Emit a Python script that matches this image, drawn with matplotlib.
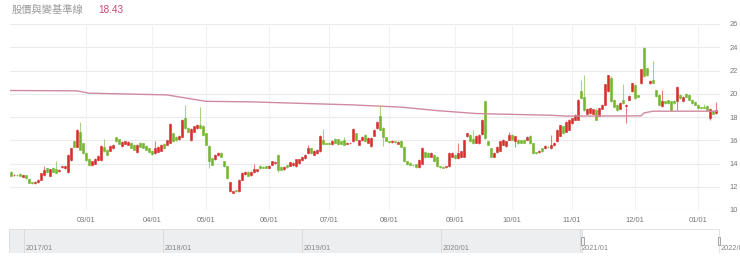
import numpy as np
import matplotlib
matplotlib.use('Agg')
import matplotlib.pyplot as plt
import matplotlib.patches as patches

# daily candles (trading-day index 0..235)
opens = [
    13.25, 13.0, 13.05, 13.1, 12.85, 13.0, 12.7, 12.4, 12.3, 12.4,
    12.6, 13.0, 13.6, 12.95, 13.65, 13.5, 13.35, 13.7, 13.6, 13.25,
    14.3, 15.9, 15.45, 16.75, 15.75, 14.9, 14.4, 13.85, 14.0, 14.3,
    14.3, 15.45, 15.2, 15.1, 15.3, 16.25, 16.1, 15.5, 15.7, 15.6,
    15.8, 15.6, 14.95, 15.8, 15.75, 15.5, 15.3, 15.1, 14.9, 15.0,
    15.1, 15.7, 15.6, 15.8, 16.6, 16.3, 16.1, 16.3, 17.9, 17.05,
    16.0, 16.75, 17.05, 17.35, 17.25, 16.6, 15.5, 14.45, 14.35, 14.7,
    14.9, 14.2, 13.75, 11.6, 11.5, 11.7, 11.6, 12.6, 13.1, 13.3,
    13.0, 13.25, 13.35, 13.8, 13.7, 13.75, 13.65, 13.9, 14.05, 14.75,
    13.7, 13.5, 13.85, 13.8, 13.85, 13.75, 14.05, 14.3, 14.45, 14.9,
    15.3, 14.75, 14.9, 15.05, 16.05, 15.75, 15.8, 15.65, 16.15, 16.1,
    15.9, 16.0, 15.7, 15.75, 15.9, 16.6, 15.6, 16.0, 16.45, 15.8,
    15.5, 16.4, 17.05, 18.05, 17.05, 16.25, 15.9, 15.85, 15.9, 15.7,
    15.95, 15.45, 14.2, 14.05, 13.9, 13.95, 13.7, 14.0, 15.0, 14.9,
    14.6, 14.75, 14.6, 13.75, 13.72, 13.7, 13.75, 14.6, 14.75, 14.45,
    14.6, 14.6, 16.35, 16.45, 16.15, 15.8, 15.75, 16.5, 19.35, 15.9,
    15.3, 14.6, 14.95, 15.1, 15.6, 15.5, 16.05, 16.45, 15.95, 16.05,
    16.0, 16.05, 16.05, 16.4, 15.75, 14.95, 14.95, 15.3, 15.3, 15.45,
    15.3, 15.55, 15.9, 16.4, 17.2, 16.75, 16.9, 17.45, 17.75, 17.75,
    20.2, 19.75, 18.3, 18.35, 18.3, 18.6, 18.1, 18.7, 19.05, 20.2,
    21.35, 19.5, 19.05, 18.7, 19.45, 18.95, 19.5, 20.2, 20.75, 19.85,
    20.9, 23.9, 22.2, 20.9, 21.15, 20.3, 19.9, 18.95, 19.35, 19.45,
    19.35, 19.4, 19.35, 19.9, 19.35, 20.0, 19.9, 19.5, 19.3, 19.05,
    18.85, 18.85, 18.95, 17.9, 18.5, 18.35,
]
closes = [
    12.95, 13.05, 13.0, 12.95, 13.0, 12.75, 12.35, 12.3, 12.45, 12.6,
    13.15, 13.4, 13.3, 13.5, 13.3, 13.2, 13.45, 13.75, 13.75, 14.75,
    15.3, 15.45, 16.9, 15.2, 14.9, 14.3, 13.85, 14.2, 14.4, 14.65,
    15.5, 15.05, 14.75, 15.5, 15.6, 15.9, 15.7, 15.85, 15.9, 15.85,
    15.35, 15.2, 15.6, 15.45, 15.35, 15.2, 14.95, 14.8, 15.3, 15.45,
    15.6, 15.3, 16.0, 17.4, 15.9, 16.0, 16.4, 17.75, 17.05, 16.75,
    17.0, 17.2, 17.35, 17.05, 16.45, 15.6, 14.2, 13.9, 14.75, 14.9,
    14.6, 13.75, 12.75, 12.4, 11.6, 11.6, 12.6, 13.2, 13.3, 12.95,
    13.3, 13.5, 13.5, 13.6, 13.65, 13.65, 13.8, 14.2, 14.15, 13.45,
    13.45, 13.7, 13.7, 14.1, 14.05, 14.35, 14.35, 14.6, 14.75, 15.3,
    14.9, 15.1, 15.2, 16.4, 15.7, 15.7, 15.7, 15.95, 15.8, 15.65,
    15.7, 15.6, 15.8, 15.8, 17.0, 16.0, 16.0, 16.3, 15.9, 16.2,
    16.2, 16.9, 17.6, 16.9, 16.25, 15.95, 15.85, 15.95, 15.85, 15.85,
    15.45, 14.2, 13.95, 13.9, 13.85, 13.7, 14.3, 15.3, 14.55, 14.6,
    14.9, 14.2, 13.75, 13.7, 13.65, 13.75, 14.9, 14.9, 14.45, 14.9,
    15.05, 16.0, 16.6, 15.9, 15.75, 16.4, 16.45, 17.75, 16.2, 15.6,
    14.6, 14.9, 15.45, 15.9, 16.05, 15.9, 16.45, 16.05, 16.35, 15.75,
    15.8, 15.8, 16.3, 15.75, 14.9, 14.9, 15.1, 15.05, 15.5, 15.4,
    15.6, 15.8, 16.9, 17.3, 16.6, 17.6, 17.75, 17.9, 18.2, 19.5,
    19.6, 18.6, 18.7, 18.75, 18.65, 17.75, 18.75, 19.05, 20.8, 21.6,
    19.35, 18.9, 18.6, 19.2, 19.2, 19.05, 19.8, 20.9, 19.6, 19.75,
    22.1, 21.5, 21.6, 21.1, 20.95, 19.8, 19.05, 19.35, 19.2, 19.2,
    18.6, 19.2, 20.6, 19.6, 19.75, 19.75, 19.5, 19.2, 19.05, 18.75,
    18.8, 18.8, 18.6, 18.7, 18.3, 18.6,
]
highs = [
    13.35, 13.1, 13.1, 13.15, 13.05, 13.05, 12.75, 12.45, 12.5, 12.65,
    13.2, 13.8, 13.65, 13.55, 13.7, 14.2, 13.5, 13.8, 13.8, 14.8,
    15.35, 15.95, 16.95, 17.6, 15.8, 14.95, 14.45, 14.25, 14.45, 14.7,
    15.55, 16.1, 15.25, 15.55, 15.65, 16.3, 16.15, 15.9, 15.95, 15.9,
    15.85, 15.65, 15.65, 15.85, 15.8, 15.55, 15.35, 15.15, 15.9, 15.5,
    15.65, 15.75, 16.05, 17.45, 16.65, 16.35, 16.45, 17.8, 19.05, 17.1,
    17.05, 17.25, 17.4, 18.85, 17.3, 16.65, 15.55, 14.5, 14.8, 14.95,
    14.95, 14.25, 13.8, 12.45, 11.65, 11.75, 12.65, 13.25, 13.35, 13.35,
    13.35, 13.95, 13.55, 13.85, 13.75, 13.8, 13.85, 14.25, 14.2, 14.8,
    13.75, 13.75, 13.9, 14.15, 14.1, 14.4, 14.4, 14.65, 14.8, 15.6,
    15.35, 15.15, 15.25, 16.45, 16.95, 15.8, 15.85, 16.0, 16.2, 16.15,
    15.95, 16.3, 15.85, 15.85, 17.05, 16.65, 16.05, 16.35, 16.5, 16.25,
    16.25, 16.95, 17.65, 18.95, 17.1, 16.3, 15.95, 16.0, 15.95, 15.9,
    16.0, 15.5, 14.25, 14.1, 13.95, 14.0, 14.35, 15.45, 15.05, 14.95,
    14.95, 14.8, 14.65, 13.8, 13.78, 13.8, 14.95, 14.95, 14.8, 15.75,
    15.1, 16.05, 16.65, 16.5, 16.85, 16.45, 16.5, 17.8, 19.4, 15.95,
    15.35, 14.95, 15.5, 15.95, 16.1, 15.95, 16.75, 16.5, 16.4, 16.1,
    16.05, 16.1, 16.35, 16.45, 15.8, 15.0, 15.15, 15.35, 15.55, 15.5,
    16.45, 15.85, 16.95, 17.35, 17.25, 17.65, 17.8, 17.95, 18.25, 19.55,
    21.2, 21.6, 18.75, 18.8, 18.7, 18.75, 18.8, 19.1, 20.85, 21.65,
    21.5, 19.55, 19.1, 19.25, 20.8, 19.1, 19.85, 20.95, 20.8, 19.9,
    22.15, 24.0, 22.25, 21.15, 22.8, 20.35, 19.95, 20.35, 19.4, 19.5,
    19.4, 19.45, 20.65, 19.95, 19.8, 20.05, 19.95, 19.55, 19.35, 19.1,
    18.9, 19.1, 19.0, 18.75, 18.55, 19.3,
]
lows = [
    12.9, 12.95, 12.95, 12.9, 12.8, 12.7, 12.3, 12.25, 12.25, 12.35,
    12.55, 12.95, 13.2, 12.9, 13.25, 13.15, 13.3, 13.65, 13.55, 13.2,
    14.25, 15.4, 15.4, 15.15, 14.85, 14.25, 13.8, 13.8, 13.95, 14.25,
    14.25, 15.0, 14.7, 15.05, 15.25, 15.85, 15.65, 15.45, 15.65, 15.55,
    15.3, 15.15, 14.9, 15.4, 15.3, 15.15, 14.9, 14.75, 14.85, 14.95,
    15.05, 15.25, 15.55, 15.75, 15.85, 15.95, 16.05, 16.25, 17.0, 16.7,
    15.95, 16.7, 17.0, 17.0, 16.4, 15.55, 13.6, 13.85, 14.3, 14.65,
    14.55, 13.7, 12.7, 11.55, 11.45, 11.55, 11.55, 12.55, 13.05, 12.9,
    12.95, 13.2, 13.3, 13.55, 13.6, 13.6, 13.6, 13.85, 14.0, 13.3,
    13.4, 13.45, 13.65, 13.75, 13.8, 13.7, 14.0, 14.25, 14.4, 14.85,
    14.85, 14.7, 14.85, 15.0, 15.65, 15.65, 15.65, 15.6, 15.75, 15.6,
    15.65, 15.55, 15.65, 15.7, 15.85, 15.95, 15.55, 15.95, 15.85, 15.75,
    15.45, 16.35, 17.0, 16.85, 15.5, 15.9, 15.8, 15.8, 15.8, 15.65,
    15.4, 14.15, 13.9, 13.85, 13.8, 13.65, 13.65, 13.95, 14.5, 14.55,
    14.55, 14.15, 13.7, 13.65, 13.6, 13.65, 13.7, 14.55, 14.4, 14.4,
    14.55, 14.55, 16.3, 15.85, 15.7, 15.75, 15.7, 16.45, 16.15, 15.55,
    14.55, 14.55, 14.9, 15.05, 15.55, 15.45, 16.0, 16.0, 15.45, 15.7,
    15.75, 15.75, 16.0, 15.7, 14.85, 14.85, 14.9, 15.0, 15.25, 15.35,
    15.25, 15.5, 15.85, 16.35, 16.55, 16.7, 16.85, 17.4, 17.7, 17.7,
    19.55, 18.55, 18.25, 18.3, 18.25, 17.7, 18.05, 18.65, 19.0, 20.15,
    19.3, 18.85, 18.55, 18.65, 19.15, 17.45, 19.45, 20.15, 19.55, 19.7,
    20.85, 21.45, 21.55, 20.85, 20.9, 19.75, 19.0, 18.9, 19.15, 19.15,
    18.55, 19.15, 18.6, 19.55, 19.3, 19.7, 19.45, 19.15, 19.0, 18.7,
    18.75, 18.75, 18.55, 17.75, 18.25, 18.3,
]

# baseline (pink line) vertices: trading-day index -> value
base_idx = [-0.3, 22, 26, 52, 59, 65, 80, 113, 130, 142, 155, 163, 180, 185, 210, 211, 214, 235.5]
base_val = [20.28, 20.25, 20.05, 19.9, 19.6, 19.35, 19.3, 19.05, 18.85, 18.55, 18.3, 18.25, 18.15, 18.08, 18.1, 18.35, 18.5, 18.5]

month_labels = ['03/01', '04/01', '05/01', '06/01', '07/01', '08/01',
                '09/01', '10/01', '11/01', '12/01', '01/01']
month_idx = [25, 47, 65, 86, 106, 126, 148, 167, 187, 208, 229]
y_ticks = [10, 12, 14, 16, 18, 20, 22, 24, 26]

nav_years = [2017, 2018, 2019, 2020, 2021, 2022]
nav_labels = ['2017/01', '2018/01', '2019/01', '2020/01', '2021/01', '2022/01']
nav_window = (2021.015, 2022.0)

title_text = '股價與變基準線'
title_value = '18.43'

UP = '#d42f2c'
DOWN = '#74b630'
W, H = 740, 269

fig = plt.figure(figsize=(W / 100, H / 100), dpi=100)

# main price panel
ax = fig.add_axes([10 / W, (H - 210) / H, 710 / W, 186 / H])
idx = np.arange(len(closes))
o = np.array(opens)
c = np.array(closes)
up = c >= o
col = np.where(up, UP, DOWN)

for yv in y_ticks:
    ax.axhline(yv, color='#d6d6d6' if yv == 10 else '#ebebeb', lw=0.8, zorder=0)
for m in month_idx:
    ax.axvline(m, color='#f1f1f1', lw=0.8, zorder=0)

ax.vlines(idx, lows, highs, colors=col, lw=0.8, alpha=0.6, zorder=2)
ax.bar(idx, c - o, bottom=o, width=0.86, color=col, edgecolor=col, lw=0.4, zorder=3)
ax.plot(base_idx, base_val, color='#d08a9f', lw=1.0, zorder=4)

ax.set_xlim(-0.33, 236.33)
ax.set_ylim(10, 26)
for s in ax.spines.values():
    s.set_visible(False)
ax.yaxis.tick_right()
ax.set_yticks(y_ticks)
ax.set_yticklabels([str(v) for v in y_ticks])
ax.set_xticks(month_idx)
ax.set_xticklabels(month_labels)
ax.tick_params(length=0, labelsize=5.4, colors='#777777')
ax.tick_params(axis='y', pad=7)
ax.tick_params(axis='x', pad=5)
for lab in ax.get_xticklabels() + ax.get_yticklabels():
    lab.set_family('Liberation Sans')

# range navigator strip
nav = fig.add_axes([9 / W, (H - 253) / H, 712 / W, 24 / H])
nav.set_xlim(2017 - 15 / 139, 2022 + 2 / 139)
nav.set_ylim(0, 1)
nav.axis('off')
x0 = nav.get_xlim()[0]
nav.add_patch(patches.Rectangle((x0, 0), nav_window[0] - x0, 1, facecolor='#eceef0',
                                edgecolor='#dcdcdc', lw=0.6, zorder=1))
nav.add_patch(patches.Rectangle((nav_window[0], 0), nav_window[1] - nav_window[0], 1,
                                facecolor='white', edgecolor='#dedede', lw=0.6, zorder=1))
for yr, lab in zip(nav_years, nav_labels):
    if yr < nav_window[0]:
        nav.axvline(yr, color='#d8d8d8', lw=0.6, zorder=2)
    nav.text(yr + 2 / 139, 0.18, lab, fontsize=5.4, color='#888888', va='center',
             family='Liberation Sans', zorder=3, clip_on=False)
for hx in nav_window:
    nav.add_patch(patches.Rectangle((hx - 1.5 / 139, 0.33), 3 / 139, 0.34,
                                    facecolor='#f4f4f4', edgecolor='#999999', lw=0.6, zorder=4))

# title row
fig.text(12 / W, 1 - 10 / H, title_text, fontsize=7.4, color='#9a9a9a', va='center',
         family=['Noto Sans CJK TC', 'DejaVu Sans'])
fig.text(98 / W, 1 - 10 / H, title_value, fontsize=7.2, color='#cc4a6e', va='center',
         family='Liberation Sans')

fig.savefig('out.png', dpi=100)
